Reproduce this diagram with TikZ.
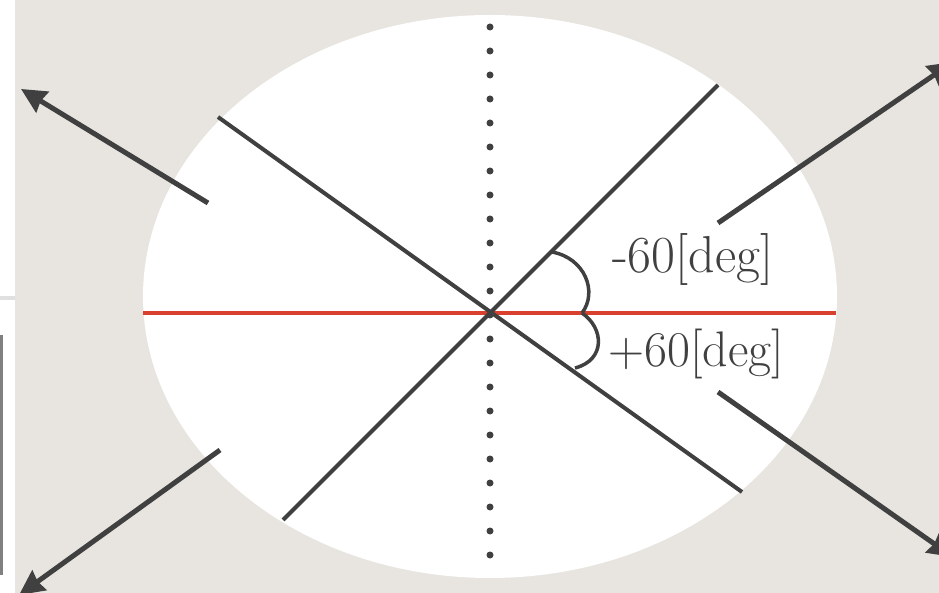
\documentclass[tikz,border=0pt]{standalone}
\usetikzlibrary{arrows.meta}

\definecolor{paper}{RGB}{232,229,224}
\definecolor{ink}{RGB}{64,64,64}
\definecolor{axisred}{RGB}{217,64,46}

\begin{document}
\begin{tikzpicture}[
  x=1pt, y=-1pt,
  guide/.style={ink, line width=4pt},
  outarrow/.style={ink, line width=5pt, -{Stealth[length=25pt, width=24pt, inset=2pt]}},
  brace/.style={ink, line width=3.5pt},
  angle/.style={ink, anchor=base west, font=\fontsize{52}{60}\selectfont, inner sep=0pt}
]
\useasboundingbox (0,0) rectangle (939,593);
\clip (0,0) rectangle (939,593);

% Backdrop and slide edges.
\fill[paper] (0,0) rectangle (939,593);
\fill[white] (0,0) rectangle (15,593);
\fill[black!12] (0,296) rectangle (15,300);
\fill[black!50] (0,335) rectangle (3,575);

% Field of view.
\fill[white] (490,296.5) ellipse (347 and 281.5);

% Vertical dotted axis.
\foreach \k in {0,...,22}
  \fill[ink] (490,27+24*\k) circle (3.5);

% Optical axis.
\coordinate (AxisL) at (143,313);
\coordinate (AxisR) at (836,313);
\draw[axisred, line width=4pt] (AxisL) -- (AxisR);

% Limits at -60 and +60 deg.
\coordinate (UpA) at (283,520);
\coordinate (UpB) at (718,85);
\coordinate (DnA) at (218,117);
\coordinate (DnB) at (742,492);
\draw[guide] (UpA) -- (UpB);
\draw[guide] (DnA) -- (DnB);

% Braces for the angles.
\coordinate (BraceTop) at (552,252);
\coordinate (BraceMid) at (582,313);
\coordinate (BraceBot) at (575,368);
\draw[brace] (BraceTop) .. controls (585,258) and (598,292) .. (BraceMid);
\draw[brace] (BraceMid) .. controls (604,328) and (606,360) .. (BraceBot);

\node[angle] (MinusLabel) at (612,273) {-60[deg]};
\node[angle, font=\fontsize{50}{60}\selectfont] (PlusLabel) at (608,366) {+60[deg]};

% Outgoing directions.
\coordinate (TLfrom) at (208,203);
\coordinate (TLto) at (21,89);
\coordinate (BLfrom) at (220,450);
\coordinate (BLto) at (19,595);
\coordinate (TRfrom) at (718,223);
\coordinate (TRto) at (953,62);
\coordinate (BRfrom) at (718,392);
\coordinate (BRto) at (953,557);
\draw[outarrow] (TLfrom) -- (TLto);
\draw[outarrow] (BLfrom) -- (BLto);
\draw[outarrow] (TRfrom) -- (TRto);
\draw[outarrow] (BRfrom) -- (BRto);

\end{tikzpicture}
\end{document}
